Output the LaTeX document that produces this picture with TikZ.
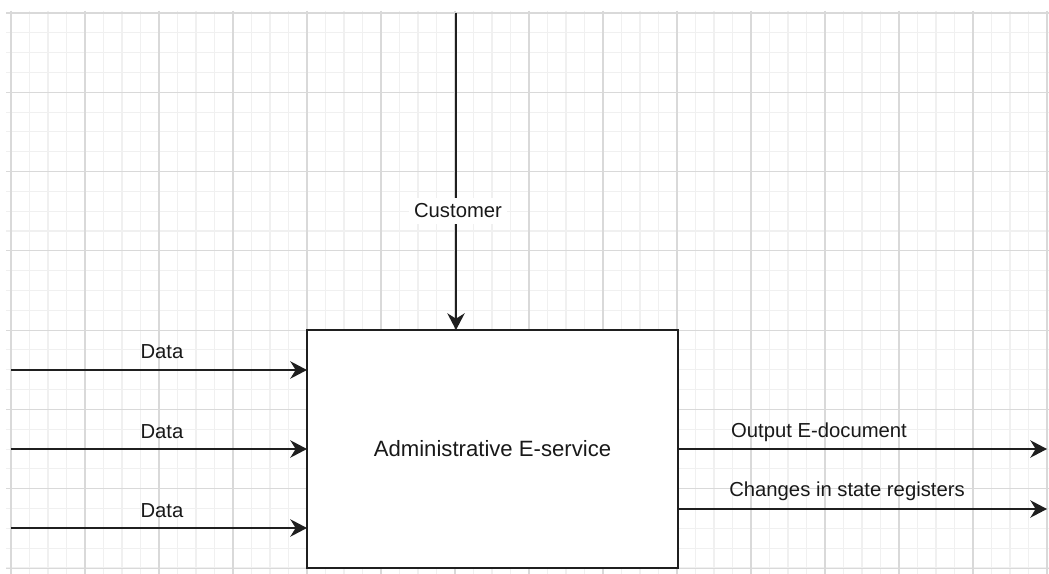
\documentclass[tikz,border=0pt]{standalone}
\usepackage{fontspec}
\setmainfont{Liberation Sans}
\usetikzlibrary{arrows.meta}
\begin{document}
\begin{tikzpicture}[x=0.75pt,y=-0.75pt,
  minorline/.style={draw=black!6, line width=0.8pt},
  majorline/.style={draw=black!15, line width=0.8pt},
  flow/.style={draw=black!88, line width=1.6pt,
    -{Stealth[length=12.5pt,width=13pt,inset=4pt]}},
  lbl/.style={font=\fontsize{15.2}{18}\selectfont, text=black!90, inner sep=1pt}
]
% canvas
\useasboundingbox (0,0) rectangle (1049,574);
\fill[white] (0,0) rectangle (1049,574);

% background grid: minor cells 18.5 x 19.82, major every fourth line
\foreach \k in {0,...,56} {
  \pgfmathsetmacro{\gx}{11+\k*18.5}
  \draw[minorline] (\gx,11) -- (\gx,574);
}
\foreach \k in {0,...,28} {
  \pgfmathsetmacro{\gy}{13+\k*19.82}
  \draw[minorline] (6,\gy) -- (1049,\gy);
}
\foreach \k in {0,...,14} {
  \pgfmathsetmacro{\gx}{11+\k*74}
  \draw[majorline] (\gx,11) -- (\gx,574);
}
\foreach \k in {0,...,7} {
  \pgfmathsetmacro{\gy}{13+\k*79.29}
  \draw[majorline] (6,\gy) -- (1049,\gy);
}

% central activity box
\draw[draw=black!88, line width=1.6pt, fill=white] (307,330) rectangle (678,568);
\node[lbl, font=\fontsize{16.6}{20}\selectfont] (box) at (492.5,449) {Administrative E-service};
\coordinate (boxtop) at (456,330);
\coordinate (in1) at (307,370);
\coordinate (in2) at (307,449);
\coordinate (in3) at (307,528);
\coordinate (out1) at (678,449);
\coordinate (out2) at (678,509);

% free ends of the connectors
\coordinate (ctop) at (456,13);
\coordinate (src1) at (11,370);
\coordinate (src2) at (11,449);
\coordinate (src3) at (11,528);
\coordinate (dst1) at (1047,449);
\coordinate (dst2) at (1047,509);

% control from above
\draw[flow] (ctop) -- (boxtop);
\node[lbl, fill=white, inner sep=4pt] (cust) at (458,211) {Customer};

% inputs
\draw[flow] (src1) -- (in1);
\draw[flow] (src2) -- (in2);
\draw[flow] (src3) -- (in3);
\node[lbl] (d1) at (162,352) {Data};
\node[lbl] (d2) at (162,432) {Data};
\node[lbl] (d3) at (162,511) {Data};

% outputs
\draw[flow] (out1) -- (dst1);
\draw[flow] (out2) -- (dst2);
\node[lbl] (o1) at (819,432) {Output E-document};
\node[lbl] (o2) at (847,491) {Changes in state registers};
\end{tikzpicture}
\end{document}
